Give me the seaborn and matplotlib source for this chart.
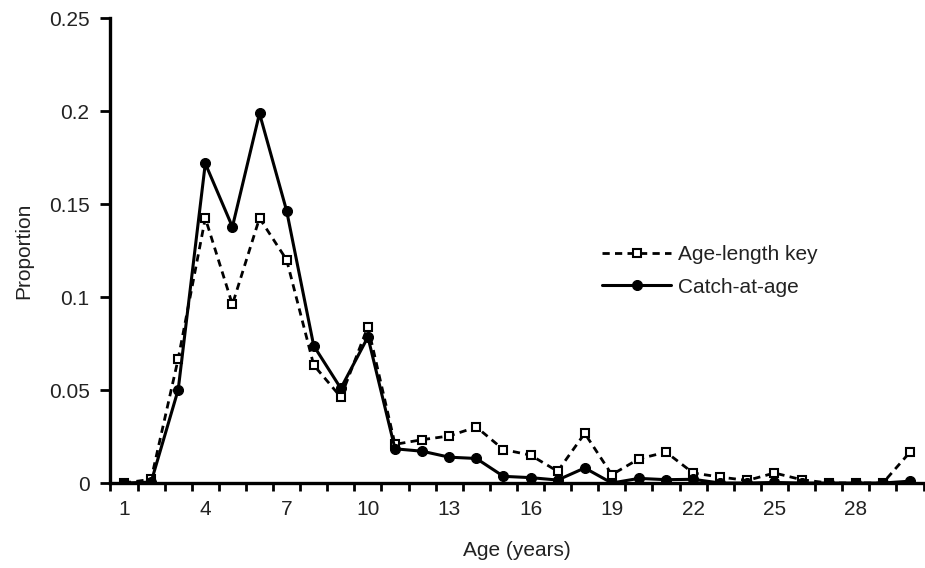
import matplotlib
matplotlib.use("Agg")
import matplotlib.pyplot as plt
import seaborn as sns
import numpy as np
import pandas as pd
from matplotlib.ticker import FixedLocator

ages = list(range(1, 31))
age_length_key = [0.0, 0.002, 0.0668, 0.1424, 0.096, 0.1424, 0.120, 0.0634, 0.0462, 0.0841,
                  0.0208, 0.0233, 0.0253, 0.0301, 0.018, 0.015, 0.0063, 0.0267, 0.0045, 0.013,
                  0.0166, 0.0054, 0.0032, 0.0014, 0.0054, 0.0018, 0.0, 0.0, 0.0, 0.0166]
catch_at_age = [0.0, 0.0005, 0.0502, 0.1718, 0.1377, 0.1987, 0.1464, 0.0738, 0.0509, 0.0785,
                0.0184, 0.0171, 0.0139, 0.0132, 0.0036, 0.0029, 0.0016, 0.0081, 0.0, 0.0025,
                0.0018, 0.002, 0.0, 0.0, 0.0003, 0.0, 0.0, 0.0, 0.0, 0.001]
x_tick_labels = ["1", "4", "7", "10", "13", "16", "19", "22", "25", "28"]
y_ticks = [0, 0.05, 0.1, 0.15, 0.2, 0.25]
y_tick_labels = ["0", "0.05", "0.1", "0.15", "0.2", "0.25"]

sns.set_style("white")
plt.rcParams['font.family'] = ['Liberation Sans', 'DejaVu Sans']

FS = 15
TXT = "#222222"

df = pd.DataFrame({"Age": ages, "ALK": age_length_key, "CAA": catch_at_age})

fig = plt.figure(figsize=(9.25, 5.68), dpi=100)
ax = fig.add_axes([0.1194, 0.1496, 0.8790, 0.8187])

sns.lineplot(data=df, x="Age", y="ALK", ax=ax, color="black", linewidth=2.0,
             linestyle=(0, (2.6, 1.9)), marker="s", markersize=6.4,
             markerfacecolor="white", markeredgecolor="black", markeredgewidth=1.5,
             label="Age-length key", zorder=3)
sns.lineplot(data=df, x="Age", y="CAA", ax=ax, color="black", linewidth=2.2,
             marker="o", markersize=7.2, markerfacecolor="black", markeredgecolor="black",
             label="Catch-at-age", zorder=4)

ax.set_xlim(0.5, 30.5)
ax.set_ylim(0, 0.25)

major_pos = [int(t) for t in x_tick_labels]
ax.xaxis.set_major_locator(FixedLocator(major_pos))
ax.set_xticklabels(x_tick_labels)
ax.xaxis.set_minor_locator(FixedLocator(np.arange(0.5, 31, 1.0)))
ax.tick_params(axis="x", which="major", length=0, pad=12, labelsize=FS, colors=TXT)
ax.tick_params(axis="x", which="minor", length=6, width=2, direction="out", color="black", bottom=True)
ax.set_yticks(y_ticks)
ax.set_yticklabels(y_tick_labels)
ax.tick_params(axis="y", which="major", length=7, width=2, direction="out", color="black",
               labelsize=FS, pad=8, left=True, labelcolor=TXT)

for s in ["top", "right"]:
    ax.spines[s].set_visible(False)
for s in ["left", "bottom"]:
    ax.spines[s].set_color("black")
    ax.spines[s].set_linewidth(2.4)

ax.set_xlabel("Age (years)", fontsize=FS, labelpad=16, color=TXT)
ax.set_ylabel("Proportion", fontsize=FS, labelpad=11, color=TXT)

leg = ax.legend(loc="center left", bbox_to_anchor=(0.605, 0.456), frameon=False,
                fontsize=FS, handlelength=3.3, handletextpad=0.35, labelspacing=0.63,
                borderpad=0, borderaxespad=0)
for t in leg.get_texts():
    t.set_color(TXT)

fig.savefig("out.png", dpi=100)
